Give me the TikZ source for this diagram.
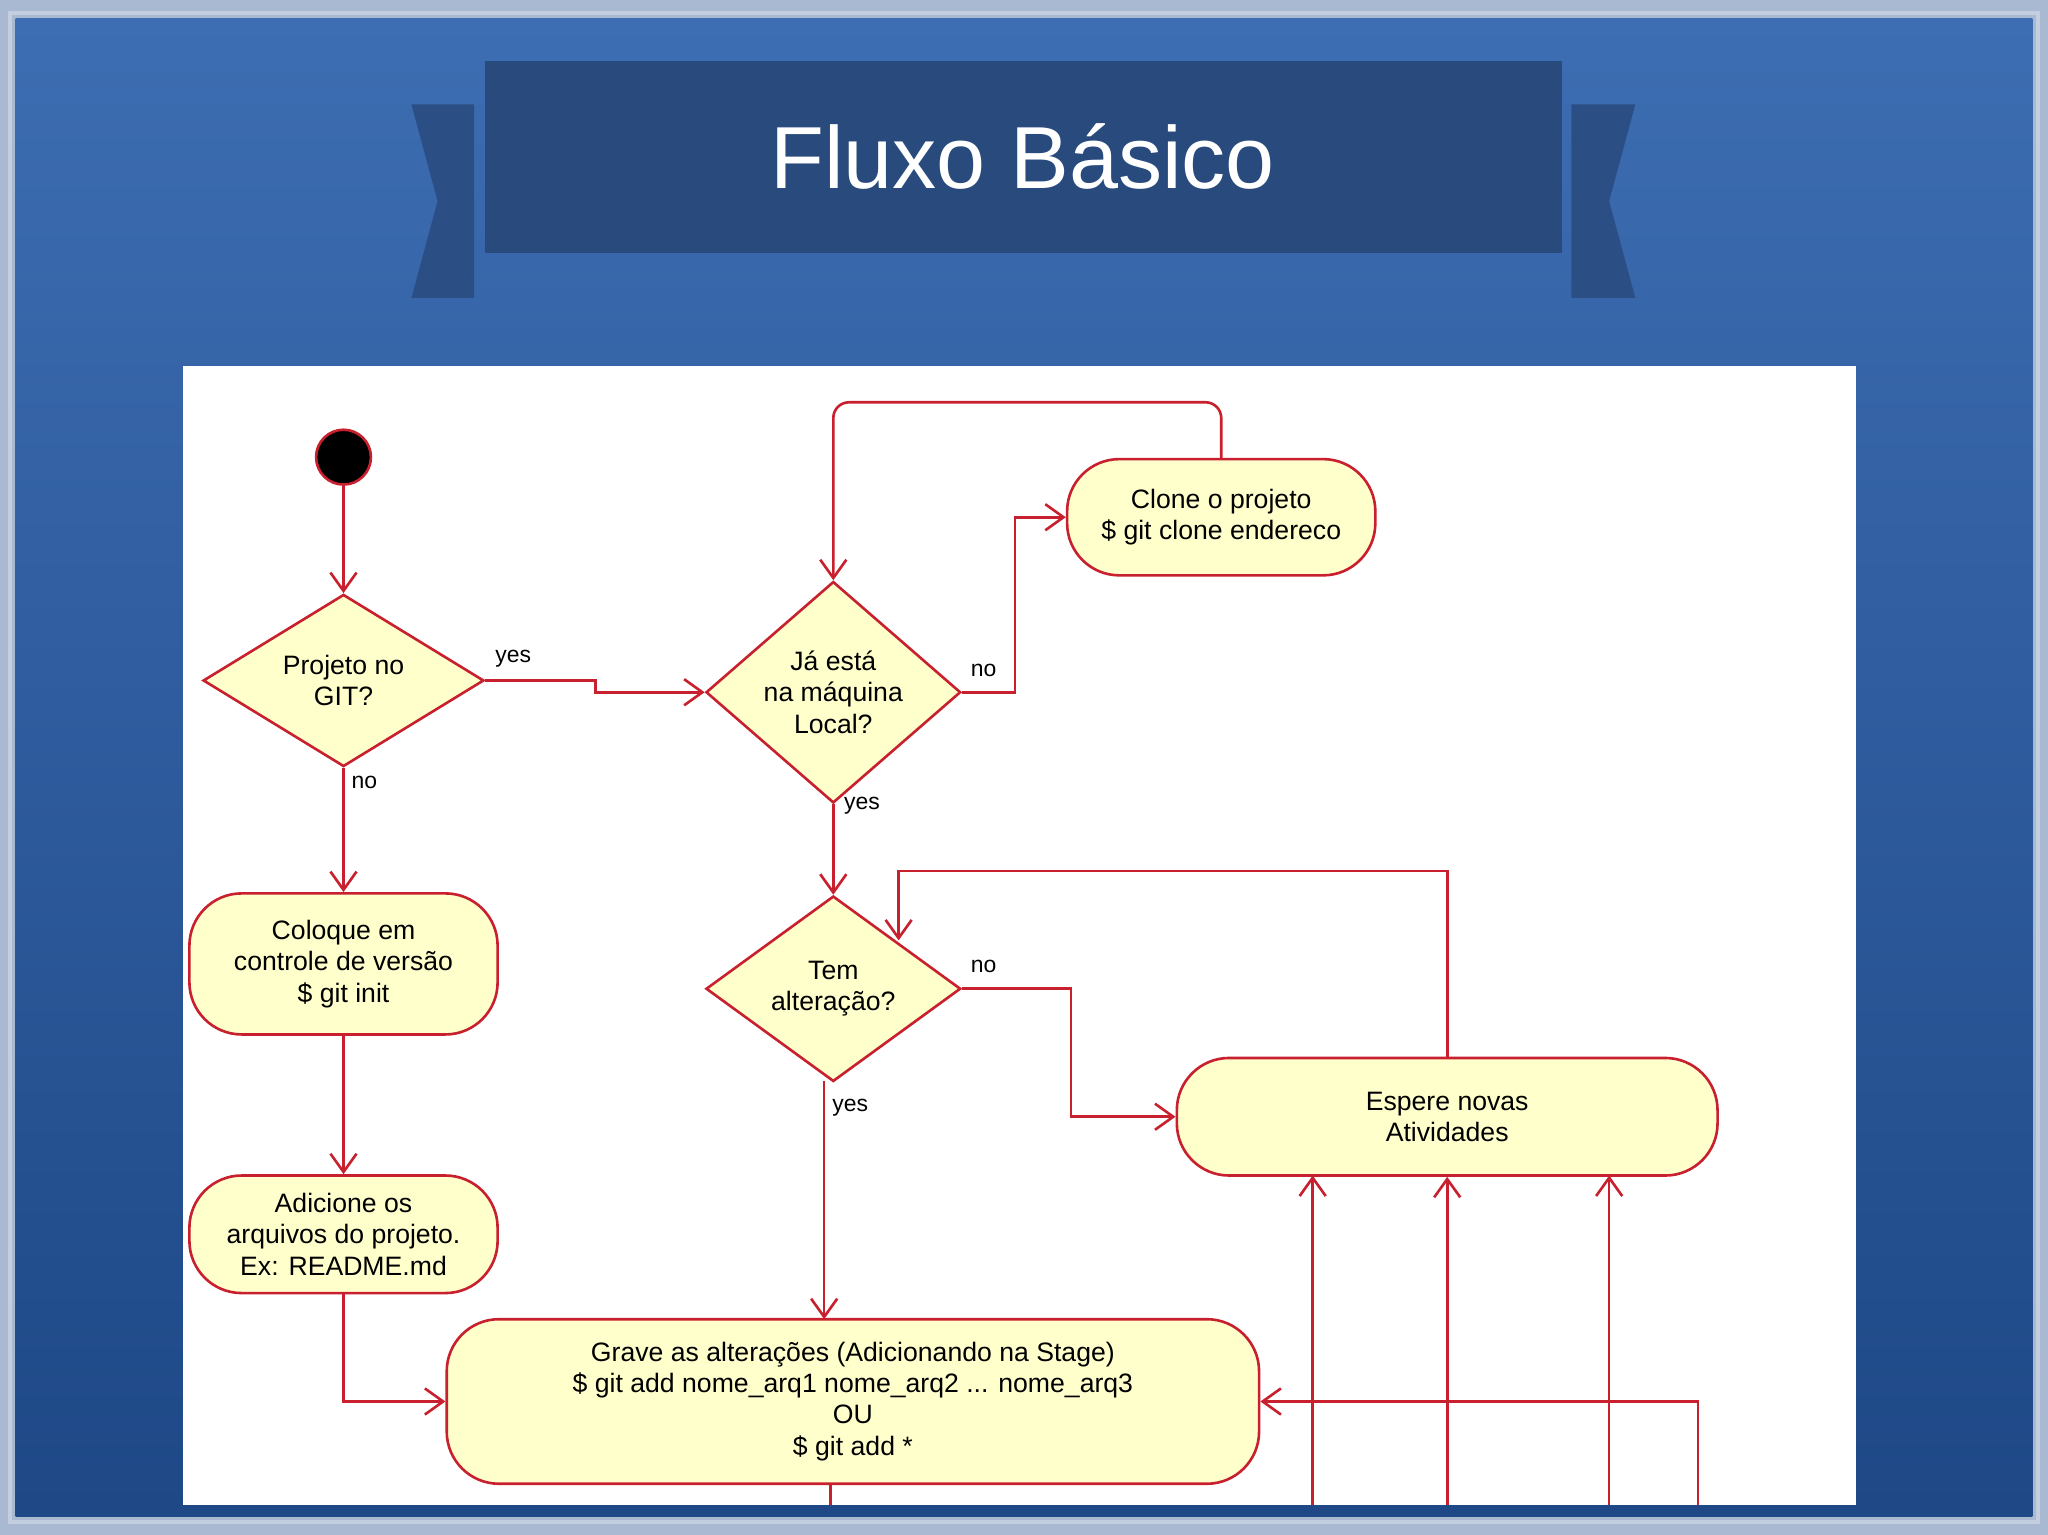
\documentclass[tikz,border=0pt]{standalone}
\usepackage{fontspec}
\setmainfont{Liberation Sans}
\usetikzlibrary{shapes.geometric,arrows.meta}
\definecolor{frameC}{HTML}{A9B9D2}
\definecolor{bgTop}{HTML}{3D6DB2}
\definecolor{bgBot}{HTML}{1E4886}
\definecolor{banner}{HTML}{284A7C}
\definecolor{tab}{HTML}{2B4F85}
\definecolor{umlY}{HTML}{FFFFCC}
\definecolor{umlR}{HTML}{C8202E}
\begin{document}
\begin{tikzpicture}[x=0.05cm,y=-0.05cm,
  txt/.style={font=\fontsize{29}{34}\selectfont,align=center,text=black},
  act/.style={txt,draw=umlR,fill=umlY,line width=0.1cm,rounded corners=2cm,inner sep=0},
  dec/.style={txt,draw=umlR,fill=umlY,line width=0.1cm,diamond,inner sep=0},
  flow/.style={draw=umlR,line width=0.1cm,-{Straight Barb[length=0.7cm,width=1.0cm,line width=0.1cm]}},
  seg/.style={draw=umlR,line width=0.1cm},
  lbl/.style={font=\fontsize{25}{30}\selectfont,text=black}]
\useasboundingbox (0,0) rectangle (1568,1175);
\fill[frameC] (0,0) rectangle (1568,1175);
\shade[top color=bgTop,bottom color=bgBot] (12,14) rectangle (1556,1161);
\draw[frameC!70!white,line width=0.15cm] (8,10) rectangle (1560,1165);
% banner
\fill[tab] (315,80)--(363,80)--(363,228)--(315,228)--(335,154)--cycle;
\fill[tab] (1203,80)--(1252,80)--(1232,154)--(1252,228)--(1203,228)--cycle;
\fill[banner] (371,47) rectangle (1196,194);
\node[text=white,font=\fontsize{96}{110}\selectfont] (title) at (783,120) {Fluxo Básico};
% panel
\fill[white] (140,280) rectangle (1421,1152);
% nodes
\node[circle,fill=black,draw=umlR,line width=0.1cm,minimum size=2.1cm,inner sep=0] (start) at (263,350) {};
\node[dec,minimum width=10.75cm,minimum height=5.3cm] (d1) at (263,521) {Projeto no\\GIT?};
\node[dec,minimum width=9.75cm,minimum height=6.2cm] (d2) at (638,530) {Já está\\na máquina\\Local?};
\node[dec,minimum width=9.75cm,minimum height=7.1cm] (d3) at (638,757) {Tem\\alteração?};
\node[act,minimum width=11.8cm,minimum height=4.45cm] (clone) at (935,396) {Clone o projeto\\\$ git clone endereco};
\node[act,minimum width=11.8cm,minimum height=5.4cm] (init) at (263,738) {Coloque em\\controle de versão\\\$ git init};
\node[act,minimum width=11.8cm,minimum height=4.5cm] (add) at (263,945) {Adicione os\\arquivos do projeto.\\Ex: README.md};
\node[act,minimum width=20.7cm,minimum height=4.5cm] (esp) at (1108,855) {Espere novas\\Atividades};
\node[act,minimum width=31.1cm,minimum height=6.3cm] (grave) at (653,1073) {Grave as alterações (Adicionando na Stage)\\\$ git add nome\_arq1 nome\_arq2 ... nome\_arq3\\OU\\\$ git add *};
% free ends
\coordinate (b1) at (1005,1152);
\coordinate (b2) at (1108,1152);
\coordinate (b3) at (1232,1152);
\coordinate (b4) at (1300,1152);
\coordinate (b5) at (636,1152);
% edges
\draw[flow] (start) -- (d1.north);
\draw[flow] (d1.east) -- (456,521) -- (456,530) -- (d2.west);
\node[lbl] (l1) at (393,504) {yes};
\draw[flow] (d1.south) -- (init.north);
\node[lbl] (l2) at (279,599) {no};
\draw[flow] (d2.east) -- (777,530) -- (777,396) -- (clone.west);
\node[lbl] (l3) at (753,513) {no};
\draw[flow,rounded corners=0.6cm] (clone.north) -- (935,308) -- (638,308) -- (d2.north);
\draw[flow] (d2.south) -- (d3.north);
\node[lbl] (l4) at (660,617) {yes};
\draw[flow] (d3.east) -- (820,757) -- (820,855) -- (esp.west);
\node[lbl] (l5) at (753,740) {no};
\draw[flow] (esp.north) -- (1108,667) -- (688,667) -- (688,720);
\draw[flow] (631,828) -- (631,1010);
\node[lbl] (l6) at (651,848) {yes};
\draw[flow] (init.south) -- (add.north);
\draw[flow] (add.south) -- (263,1073) -- (grave.west);
\draw[flow] (b4) -- (1300,1073) -- (grave.east);
\draw[flow] (b1) -- (1005,900);
\draw[flow] (b2) -- (esp.south);
\draw[flow] (b3) -- (1232,900);
\draw[seg] (636,1136) -- (b5);
\end{tikzpicture}
\end{document}
